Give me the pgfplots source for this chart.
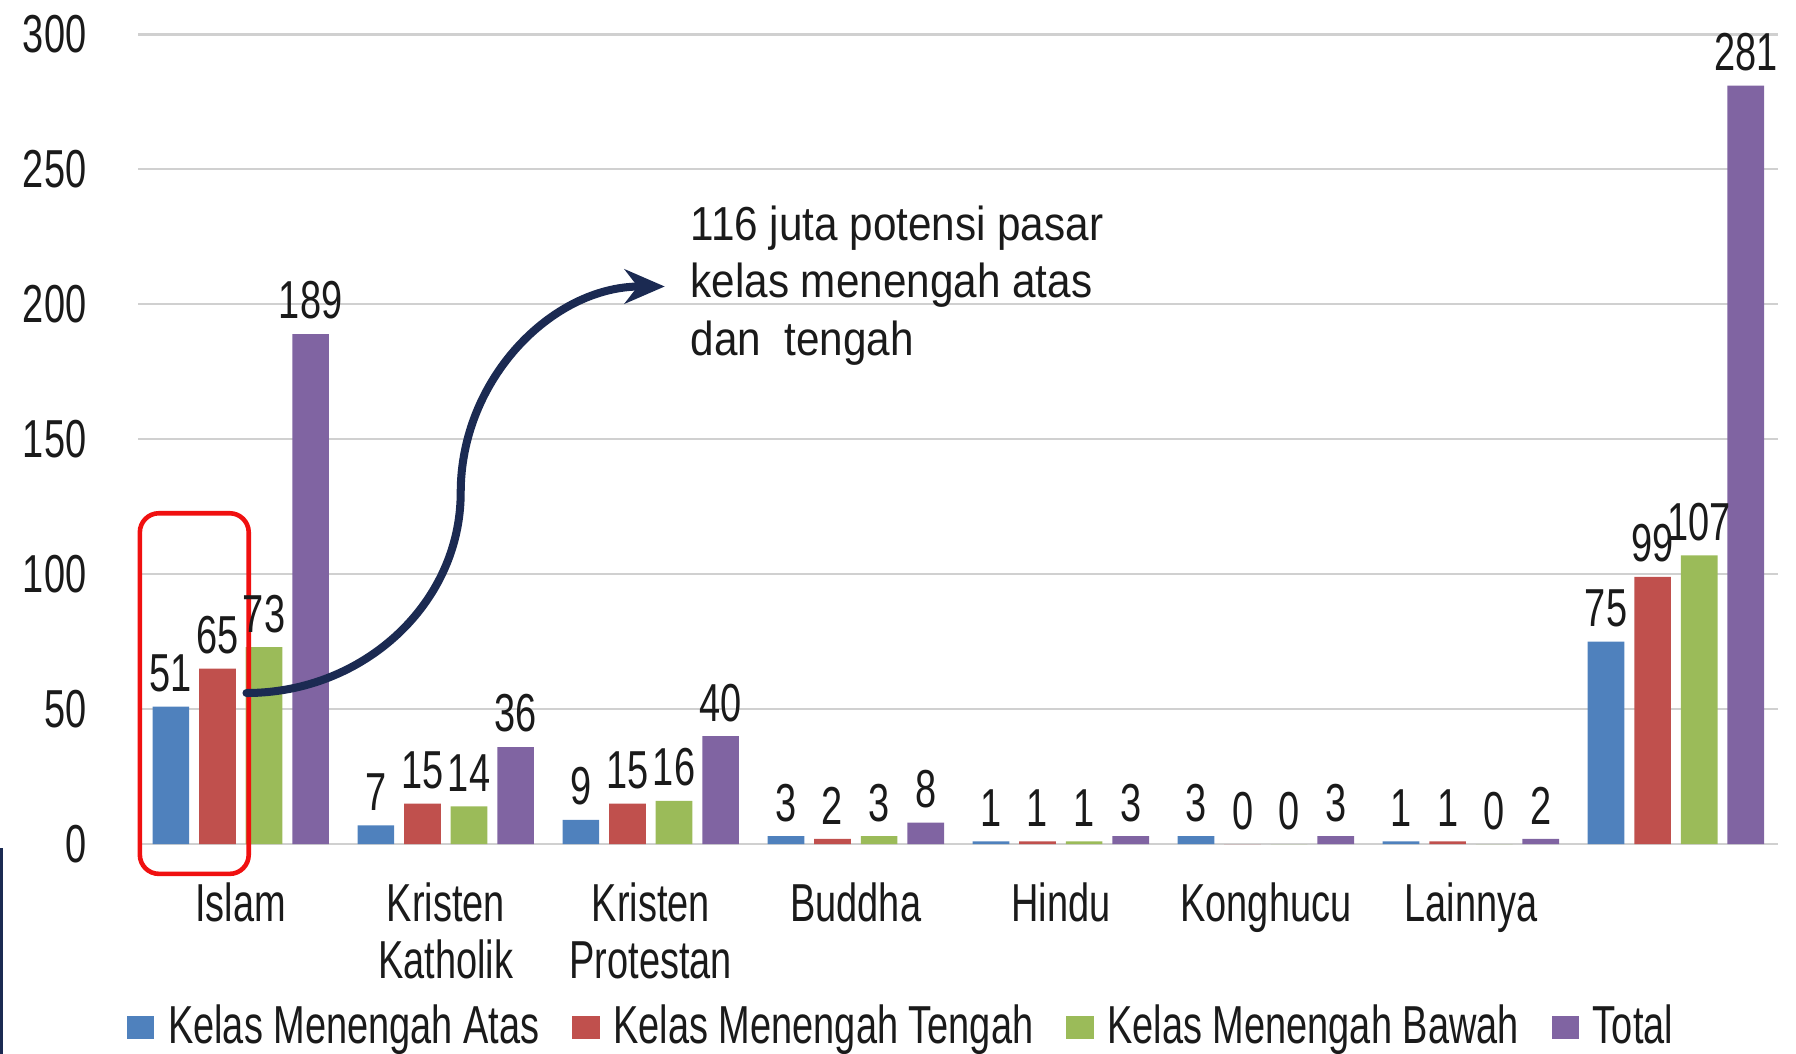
\documentclass[border=0pt]{standalone}
\usepackage{pgfplots}
\pgfplotsset{compat=1.18}
\usepackage{fontspec}
\setmainfont{Liberation Sans}
\newfontfamily\condfont[FakeStretch=0.71]{Liberation Sans}
\newfontfamily\notefont[FakeStretch=0.885]{Liberation Sans}
\usetikzlibrary{arrows.meta}
\definecolor{cA}{HTML}{4F81BD}
\definecolor{cB}{HTML}{C0504D}
\definecolor{cC}{HTML}{9BBB59}
\definecolor{cD}{HTML}{8064A2}
\definecolor{navy}{HTML}{1B2A52}
\definecolor{gridc}{HTML}{D0D0D0}
\definecolor{boxred}{HTML}{F01010}
\definecolor{txt}{HTML}{1A1A1A}
\newcommand{\cf}{\condfont\fontsize{14}{15}\selectfont}
\begin{document}
\begin{tikzpicture}
\useasboundingbox (-36.2pt,-54.9pt) rectangle (434.2pt,221.1pt);
\fill[navy] (-36.2pt,-54.9pt) rectangle (-35.3pt,-0.9pt);
\begin{axis}[
  scale only axis, width=429.6pt, height=212.1pt,
  ybar=2.6pt, bar width=9.6pt,
  xmin=-0.5, xmax=7.5, ymin=0, ymax=300,
  xtick={0,...,7},
  xticklabels={Islam,{Kristen\\Katholik},{Kristen\\Protestan},Buddha,Hindu,Konghucu,Lainnya,{}},
  ytick={0,50,...,300},
  major tick length=0pt, tick style={draw=none},
  axis line style={draw=none},
  ymajorgrids, grid style={gridc, line width=0.6pt},
  /pgf/number format/assume math mode=true,
  yticklabel style={font=\cf, text=txt, anchor=east, inner sep=0pt, xshift=-13.4pt},
  xticklabel style={font=\cf, text=txt, anchor=north, align=center, inner sep=0pt, yshift=-9.9pt},
  nodes near coords,
  nodes near coords style={font=\cf, text=txt, inner sep=0pt, anchor=south, yshift=3.6pt},
  legend columns=4,
  legend style={draw=none, fill=none, at={(-0.0074,-0.2263)}, anchor=west, inner sep=0pt, font=\cf, text=txt,
    /tikz/every odd column/.append style={column sep=3.6pt},
    /tikz/every even column/.append style={column sep=8.6pt},
    nodes={inner sep=0pt}},
  legend image code/.code={\fill[#1] (0pt,-3pt) rectangle (7.2pt,3pt);},
  clip=false,
]
\addplot[fill=cA, draw=none] coordinates {(0,51)(1,7)(2,9)(3,3)(4,1)(5,3)(6,1)(7,75)};
\addplot[fill=cB, draw=none] coordinates {(0,65)(1,15)(2,15)(3,2)(4,1)(5,0)(6,1)(7,99)};
\addplot[fill=cC, draw=none] coordinates {(0,73)(1,14)(2,16)(3,3)(4,1)(5,0)(6,0)(7,107)};
\addplot[fill=cD, draw=none] coordinates {(0,189)(1,36)(2,40)(3,8)(4,3)(5,3)(6,2)(7,281)};
\legend{Kelas Menengah Atas, Kelas Menengah Tengah, Kelas Menengah Bawah, Total}
\draw[boxred, line width=1.2pt, rounded corners=5pt] (axis cs:-0.492,-11) rectangle (axis cs:0.039,122.6);
\draw[navy, line width=2.1pt, line cap=round, -{Stealth[length=10.5pt,width=9pt]}]
  (axis cs:0.028,56) .. controls (axis cs:0.604,56) and (axis cs:1.073,89.5) .. (axis cs:1.073,130.3)
  .. controls (axis cs:1.073,172.3) and (axis cs:1.520,206.6) .. (axis cs:2.068,206.6);
\node[anchor=base west, inner sep=0pt, text=txt, font=\notefont\fontsize{12.5}{15}\selectfont] at (axis cs:2.191,223.6) {116 juta potensi pasar};
\node[anchor=base west, inner sep=0pt, text=txt, font=\notefont\fontsize{12.5}{15}\selectfont] at (axis cs:2.191,202.4) {kelas menengah atas};
\node[anchor=base west, inner sep=0pt, text=txt, font=\notefont\fontsize{12.5}{15}\selectfont] at (axis cs:2.191,181.2) {dan\ \ tengah};
\end{axis}
\end{tikzpicture}
\end{document}
